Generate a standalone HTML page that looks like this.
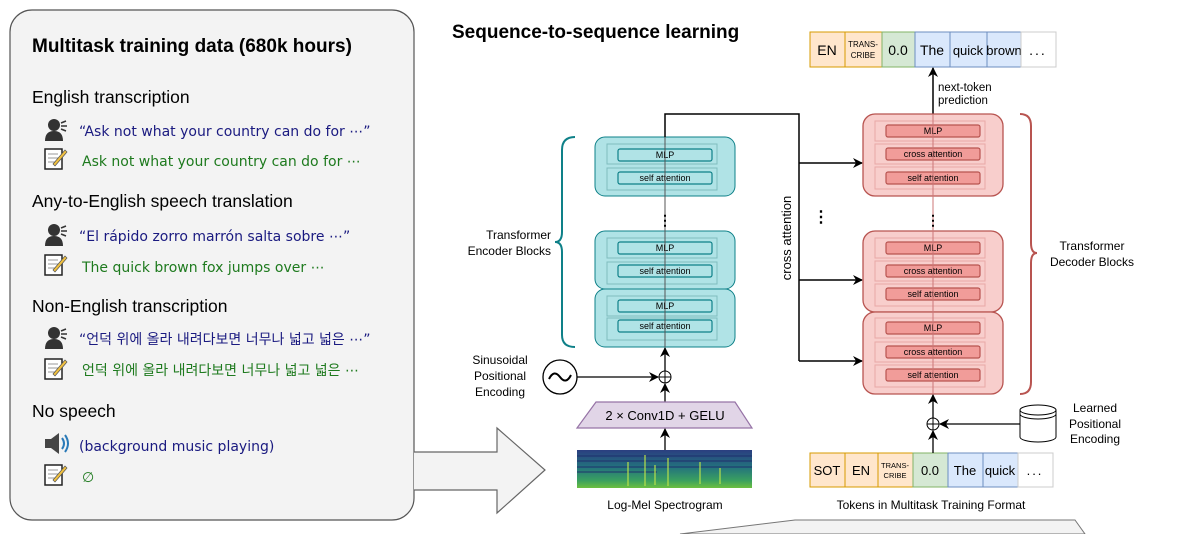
<!DOCTYPE html>
<html><head><meta charset="utf-8"><style>
body{margin:0;background:#fff;}
svg{display:block;font-family:"Liberation Sans","Noto Sans CJK KR",sans-serif;}
.v{font-family:"DejaVu Sans","Noto Sans CJK KR",sans-serif;}
</style></head><body>
<svg width="1180" height="534" viewBox="0 0 1180 534" xmlns="http://www.w3.org/2000/svg">
<defs>
<marker id="ah" markerWidth="10" markerHeight="10" refX="9" refY="5" orient="auto" markerUnits="userSpaceOnUse"><path d="M0,0 L10,5 L0,10 L3,5z" fill="#000"/></marker>
<g id="spk"><circle cx="9" cy="7" r="6" fill="#333"/><path d="M0,23 Q0,13 9,13 Q18,13 18,23z" fill="#333"/><path d="M16,5 l5,-2 M16,8 h6 M16,11 l5,2" stroke="#333" stroke-width="1.5"/></g>
<g id="note"><rect x="0" y="2" width="17" height="20" fill="#fff" stroke="#222" stroke-width="1.5"/><path d="M3,7h10M3,11h10M3,15h8" stroke="#999"/><path d="M8,17 L20,3 L22,5 L10,19z" fill="#f0c040" stroke="#555" stroke-width=".7"/></g>
<linearGradient id="sg" x1="0" y1="0" x2="0" y2="1"><stop offset="0" stop-color="#2b3f80"/><stop offset=".45" stop-color="#23727e"/><stop offset=".8" stop-color="#3aa060"/><stop offset="1" stop-color="#6cbf40"/></linearGradient>
</defs>
<!-- left panel -->
<rect x="10" y="10" width="404" height="510" rx="22" fill="#f3f3f3" stroke="#555" stroke-width="1.2"/>
<text x="32" y="52" font-size="19" font-weight="bold">Multitask training data (680k hours)</text>
<g font-size="17.5" fill="#000">
<text x="32" y="103">English transcription</text>
<text x="32" y="207">Any-to-English speech translation</text>
<text x="32" y="312">Non-English transcription</text>
<text x="32" y="417">No speech</text>
</g>
<use href="#spk" x="45" y="118"/><use href="#note" x="45" y="147"/>
<use href="#spk" x="45" y="223"/><use href="#note" x="45" y="253"/>
<use href="#spk" x="45" y="326"/><use href="#note" x="45" y="357"/>
<g transform="translate(45,434)"><rect x="0" y="5" width="6" height="9" fill="#444"/><path d="M6,5 L14,-1 V20 L6,14z" fill="#444"/><path d="M17,4 Q21,9.5 17,15 M20,1 Q26,9.5 20,18" stroke="#2a7ab8" fill="none" stroke-width="2"/></g>
<use href="#note" x="45" y="463"/>
<g class="v" font-size="14">
<text x="79" y="136" fill="#1a1a80">“Ask not what your country can do for ⋯”</text>
<text x="82" y="166" fill="#1e7a1e">Ask not what your country can do for ⋯</text>
<text x="79" y="241" fill="#1a1a80">“El rápido zorro marrón salta sobre ⋯”</text>
<text x="82" y="272" fill="#1e7a1e">The quick brown fox jumps over ⋯</text>
<text x="79" y="344" fill="#1a1a80">“언덕 위에 올라 내려다보면 너무나 넓고 넓은 ⋯”</text>
<text x="82" y="375" fill="#1e7a1e">언덕 위에 올라 내려다보면 너무나 넓고 넓은 ⋯</text>
<text x="79" y="451" fill="#1a1a80">(background music playing)</text>
<text x="82" y="482" fill="#1e7a1e">∅</text>
</g>
<!-- big arrow -->
<path d="M414,452 H497 V428 L545,470 L497,513 V490 H414" fill="#f3f3f3" stroke="#666" stroke-width="1.2"/>
<!-- bottom gray shape -->
<path d="M680,534 L795,520 L1075,520 L1085,534z" fill="#f3f3f3" stroke="#777"/>
<text x="452" y="38" font-size="19" font-weight="bold">Sequence-to-sequence learning</text>

<!-- output tokens -->
<g font-size="14" text-anchor="middle">
<rect x="810" y="32" width="35" height="35" fill="#ffe6cc" stroke="#d79b00"/><text x="827" y="55">EN</text>
<rect x="845" y="32" width="37" height="35" fill="#ffe6cc" stroke="#d79b00"/><text x="863" y="47" font-size="8">TRANS-</text><text x="863" y="58" font-size="8">CRIBE</text>
<rect x="882" y="32" width="33" height="35" fill="#d5e8d4" stroke="#82b366"/><text x="898" y="55">0.0</text>
<rect x="915" y="32" width="35" height="35" fill="#dae8fc" stroke="#6c8ebf"/><text x="932" y="55">The</text>
<rect x="950" y="32" width="37" height="35" fill="#dae8fc" stroke="#6c8ebf"/><text x="968" y="55" font-size="13">quick</text>
<rect x="987" y="32" width="34" height="35" fill="#dae8fc" stroke="#6c8ebf"/><text x="1004" y="55" font-size="13">brown</text>
<rect x="1021" y="32" width="35" height="35" fill="#fff" stroke="#ccc"/><text x="1038" y="55" letter-spacing="2">...</text>
</g>
<line x1="933" y1="114" x2="933" y2="68" stroke="#000" stroke-width="1.5" marker-end="url(#ah)"/>
<text x="938" y="91" font-size="11.5">next-token</text><text x="938" y="104" font-size="11.5">prediction</text>

<!-- encoder -->
<g stroke="#0e8088" fill="#b0e3e6">
<rect x="595" y="137" width="140" height="59" rx="10"/>
<rect x="595" y="231" width="140" height="58" rx="10"/>
<rect x="595" y="289" width="140" height="58" rx="10"/>
</g>
<g stroke="#7fbcbf" fill="none">
<rect x="607" y="144" width="110" height="20"/><rect x="607" y="168" width="110" height="22"/>
<rect x="607" y="238" width="110" height="20"/><rect x="607" y="262" width="110" height="22"/>
<rect x="607" y="296" width="110" height="20"/><rect x="607" y="318" width="110" height="22"/>
</g>
<g stroke="#0e8088" fill="#b0e3e6" stroke-width="1.2">
<rect x="618" y="149" width="94" height="12" rx="2"/><rect x="618" y="172" width="94" height="12" rx="2"/>
<rect x="618" y="242" width="94" height="12" rx="2"/><rect x="618" y="265" width="94" height="12" rx="2"/>
<rect x="618" y="300" width="94" height="12" rx="2"/><rect x="618" y="320" width="94" height="12" rx="2"/>
</g>
<g font-size="9" text-anchor="middle">
<text x="665" y="158">MLP</text><text x="665" y="181">self attention</text>
<text x="665" y="251">MLP</text><text x="665" y="274">self attention</text>
<text x="665" y="309">MLP</text><text x="665" y="329">self attention</text>
</g>
<line x1="665" y1="137" x2="665" y2="347" stroke="#555" stroke-width="1"/>
<text x="665" y="225" font-size="14" text-anchor="middle" font-weight="bold">⋮</text>
<path d="M575,137 Q562,137 562,150 V232 Q562,242 555,242 Q562,242 562,252 V335 Q562,347 575,347" fill="none" stroke="#0e8088" stroke-width="2"/>
<text x="551" y="239" font-size="12" text-anchor="end">Transformer</text><text x="551" y="255" font-size="12" text-anchor="end">Encoder Blocks</text>

<!-- connectors -->
<path d="M665,137 V114 H799 V361" fill="none" stroke="#000" stroke-width="1.5"/>
<line x1="799" y1="163" x2="862" y2="163" stroke="#000" stroke-width="1.5" marker-end="url(#ah)"/>
<line x1="799" y1="280" x2="862" y2="280" stroke="#000" stroke-width="1.5" marker-end="url(#ah)"/>
<line x1="799" y1="361" x2="862" y2="361" stroke="#000" stroke-width="1.5" marker-end="url(#ah)"/>
<text transform="translate(791,238) rotate(-90)" font-size="13" text-anchor="middle">cross attention</text>
<text x="821" y="222" font-size="16" text-anchor="middle" font-weight="bold">⋮</text>

<!-- decoder -->
<g stroke="#b85450" fill="#f8cecc" stroke-width="1.3">
<rect x="863" y="114" width="140" height="82" rx="12"/>
<rect x="863" y="231" width="140" height="81" rx="12"/>
<rect x="863" y="312" width="140" height="82" rx="12"/>
</g>
<g stroke="#e8a8a6" fill="none">
<rect x="875" y="121" width="110" height="20"/><rect x="875" y="144" width="110" height="20"/><rect x="875" y="167" width="110" height="22"/>
<rect x="875" y="238" width="110" height="20"/><rect x="875" y="261" width="110" height="20"/><rect x="875" y="284" width="110" height="22"/>
<rect x="875" y="318" width="110" height="20"/><rect x="875" y="342" width="110" height="20"/><rect x="875" y="365" width="110" height="22"/>
</g>
<g stroke="#b85450" fill="#f19c99" stroke-width="1.2">
<rect x="886" y="125" width="94" height="12" rx="2"/><rect x="886" y="148" width="94" height="12" rx="2"/><rect x="886" y="172" width="94" height="12" rx="2"/>
<rect x="886" y="242" width="94" height="12" rx="2"/><rect x="886" y="265" width="94" height="12" rx="2"/><rect x="886" y="288" width="94" height="12" rx="2"/>
<rect x="886" y="322" width="94" height="12" rx="2"/><rect x="886" y="346" width="94" height="12" rx="2"/><rect x="886" y="369" width="94" height="12" rx="2"/>
</g>
<g font-size="9" text-anchor="middle">
<text x="933" y="134">MLP</text><text x="933" y="157">cross attention</text><text x="933" y="181">self attention</text>
<text x="933" y="251">MLP</text><text x="933" y="274">cross attention</text><text x="933" y="297">self attention</text>
<text x="933" y="331">MLP</text><text x="933" y="355">cross attention</text><text x="933" y="378">self attention</text>
</g>
<line x1="933" y1="114" x2="933" y2="394" stroke="#c77" stroke-width="1"/>
<text x="933" y="225" font-size="14" text-anchor="middle" font-weight="bold">⋮</text>
<path d="M1020,114 Q1031,114 1031,126 V243 Q1031,253 1037,253 Q1031,253 1031,263 V382 Q1031,394 1020,394" fill="none" stroke="#b85450" stroke-width="2"/>
<text x="1092" y="250" font-size="12" text-anchor="middle">Transformer</text><text x="1092" y="266" font-size="12" text-anchor="middle">Decoder Blocks</text>

<!-- encoder input -->
<circle cx="560" cy="377" r="17" fill="#fff" stroke="#000" stroke-width="1.3"/>
<path d="M549,379 Q554,369 560,377 Q566,385 571,375" fill="none" stroke="#000" stroke-width="2"/>
<text x="500" y="364" font-size="12" text-anchor="middle">Sinusoidal</text><text x="500" y="380" font-size="12" text-anchor="middle">Positional</text><text x="500" y="396" font-size="12" text-anchor="middle">Encoding</text>
<line x1="577" y1="377" x2="658" y2="377" stroke="#000" stroke-width="1.3" marker-end="url(#ah)"/>
<circle cx="665" cy="377" r="6" fill="#fff" stroke="#000"/><path d="M659,377h12M665,371v12" stroke="#000"/>
<line x1="665" y1="371" x2="665" y2="348" stroke="#000" stroke-width="1.3" marker-end="url(#ah)"/>
<line x1="665" y1="402" x2="665" y2="384" stroke="#000" stroke-width="1.3" marker-end="url(#ah)"/>
<path d="M596,402 H735 L752,428 H577z" fill="#e1d5e7" stroke="#9673a6" stroke-width="1.2"/>
<text x="665" y="420" font-size="13" text-anchor="middle">2 × Conv1D + GELU</text>
<line x1="665" y1="450" x2="665" y2="429" stroke="#000" stroke-width="1.3" marker-end="url(#ah)"/>
<rect x="577" y="450" width="175" height="38" fill="url(#sg)"/>
<g stroke="#1f2a6b" stroke-width="1.2" opacity=".7"><path d="M577,456h175M577,461h175M577,467h175M577,472h80"/></g>
<g stroke="#b8e04a" stroke-width="1.5" opacity=".8"><path d="M628,462v24M645,455v31M655,465v20M668,458v28M700,462v22M720,468v16"/></g>
<text x="665" y="509" font-size="12" text-anchor="middle">Log-Mel Spectrogram</text>

<!-- decoder input -->
<g font-size="13" text-anchor="middle">
<rect x="810" y="453" width="35" height="34" fill="#ffe6cc" stroke="#d79b00"/><text x="827" y="475">SOT</text>
<rect x="845" y="453" width="33" height="34" fill="#ffe6cc" stroke="#d79b00"/><text x="861" y="475">EN</text>
<rect x="878" y="453" width="35" height="34" fill="#ffe6cc" stroke="#d79b00"/><text x="895" y="468" font-size="7.5">TRANS-</text><text x="895" y="478" font-size="7.5">CRIBE</text>
<rect x="913" y="453" width="35" height="34" fill="#d5e8d4" stroke="#82b366"/><text x="930" y="475">0.0</text>
<rect x="948" y="453" width="35" height="34" fill="#dae8fc" stroke="#6c8ebf"/><text x="965" y="475">The</text>
<rect x="983" y="453" width="35" height="34" fill="#dae8fc" stroke="#6c8ebf"/><text x="1000" y="475">quick</text>
<rect x="1018" y="453" width="35" height="34" fill="#fff" stroke="#ccc"/><text x="1035" y="475" letter-spacing="2">...</text>
</g>
<text x="931" y="509" font-size="12" text-anchor="middle">Tokens in Multitask Training Format</text>
<line x1="933" y1="453" x2="933" y2="431" stroke="#000" stroke-width="1.3" marker-end="url(#ah)"/>
<circle cx="933" cy="424" r="6" fill="#fff" stroke="#000"/><path d="M927,424h12M933,418v12" stroke="#000"/>
<line x1="933" y1="418" x2="933" y2="395" stroke="#000" stroke-width="1.3" marker-end="url(#ah)"/>
<line x1="1020" y1="424" x2="940" y2="424" stroke="#000" stroke-width="1.3" marker-end="url(#ah)"/>
<path d="M1020,410 V437 A18,5 0 0 0 1056,437 V410" fill="#fff" stroke="#000"/>
<ellipse cx="1038" cy="410" rx="18" ry="5" fill="#fff" stroke="#000"/>
<path d="M1020,414 A18,5 0 0 0 1056,414" fill="none" stroke="#000"/>
<text x="1095" y="412" font-size="12" text-anchor="middle">Learned</text><text x="1095" y="428" font-size="12" text-anchor="middle">Positional</text><text x="1095" y="443" font-size="12" text-anchor="middle">Encoding</text>
</svg>
</body></html>
